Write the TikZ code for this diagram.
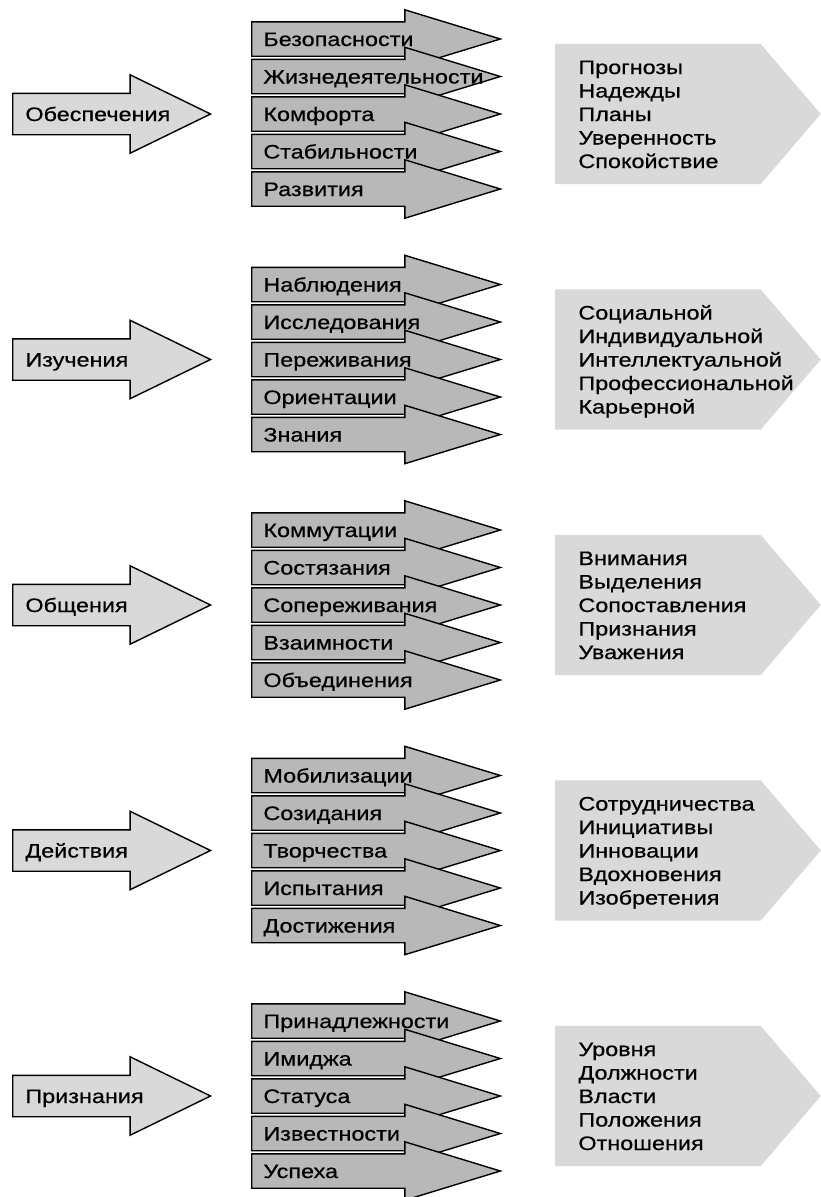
\documentclass[tikz,border=0pt]{standalone}
\usepackage{fontspec}
\setmainfont{Liberation Sans}[FakeStretch=1.2,FakeBold=0.6]
\usetikzlibrary{shapes.arrows}

\begin{document}
\begin{tikzpicture}[x=1pt,y=-1pt,font=\fontsize{19.5}{23.5}\selectfont,
  need/.style={single arrow,draw,line width=1.4pt,fill=black!15,anchor=tail,
    single arrow head extend=18.5pt,single arrow tip angle=52,
    inner xsep=12pt,inner ysep=11pt,text width=130pt,align=left,
    text height=16pt,text depth=2pt},
  way/.style={single arrow,draw,line width=1.4pt,fill=black!28,anchor=tail,
    single arrow head extend=12pt,single arrow tip angle=34,
    inner xsep=11pt,inner ysep=7.5pt,text width=169pt,align=left,
    text height=16pt,text depth=2pt},
  result/.style={single arrow,fill=black!15,anchor=tail,
    single arrow head extend=0pt,single arrow tip angle=98.8,
    inner xsep=23pt,inner ysep=14pt,text width=159pt,align=left,
    text height=16pt,text depth=96pt}]
  \useasboundingbox (0,0) rectangle (820,1197);

  % Обеспечения
  \node[need] (obesp) at (12,114) {Обеспечения};
  \node[way] (bezop) at (251,39) {Безопасности};
  \node[way] (zhizn) at (251,76.5) {Жизнедеятельности};
  \node[way] (komf) at (251,114) {Комфорта};
  \node[way] (stab) at (251,151.5) {Стабильности};
  \node[way] (razv) at (251,189) {Развития};
  \node[result] (prognoz) at (555,114) {Прогнозы\\Надежды\\Планы\\Уверенность\\Спокойствие};

  % Изучения
  \node[need] (izuch) at (12,359.5) {Изучения};
  \node[way] (nabl) at (251,284.5) {Наблюдения};
  \node[way] (issl) at (251,322) {Исследования};
  \node[way] (perezh) at (251,359.5) {Переживания};
  \node[way] (orient) at (251,397) {Ориентации};
  \node[way] (znan) at (251,434.5) {Знания};
  \node[result] (sotsial) at (555,359.5) {Социальной\\Индивидуальной\\Интеллектуальной\\Профессиональной\\Карьерной};

  % Общения
  \node[need] (obshch) at (12,605) {Общения};
  \node[way] (kommut) at (251,530) {Коммутации};
  \node[way] (sostyaz) at (251,567.5) {Состязания};
  \node[way] (soperezh) at (251,605) {Сопереживания};
  \node[way] (vzaim) at (251,642.5) {Взаимности};
  \node[way] (obyed) at (251,680) {Объединения};
  \node[result] (vniman) at (555,605) {Внимания\\Выделения\\Сопоставления\\Признания\\Уважения};

  % Действия
  \node[need] (deistv) at (12,850.5) {Действия};
  \node[way] (mobil) at (251,775.5) {Мобилизации};
  \node[way] (sozid) at (251,813) {Созидания};
  \node[way] (tvorch) at (251,850.5) {Творчества};
  \node[way] (ispyt) at (251,888) {Испытания};
  \node[way] (dostizh) at (251,925.5) {Достижения};
  \node[result] (sotrud) at (555,850.5) {Сотрудничества\\Инициативы\\Инновации\\Вдохновения\\Изобретения};

  % Признания
  \node[need] (priznan) at (12,1096) {Признания};
  \node[way] (prinadl) at (251,1021) {Принадлежности};
  \node[way] (imidzh) at (251,1058.5) {Имиджа};
  \node[way] (status) at (251,1096) {Статуса};
  \node[way] (izvest) at (251,1133.5) {Известности};
  \node[way] (uspekh) at (251,1171) {Успеха};
  \node[result] (urovn) at (555,1096) {Уровня\\Должности\\Власти\\Положения\\Отношения};
\end{tikzpicture}
\end{document}
